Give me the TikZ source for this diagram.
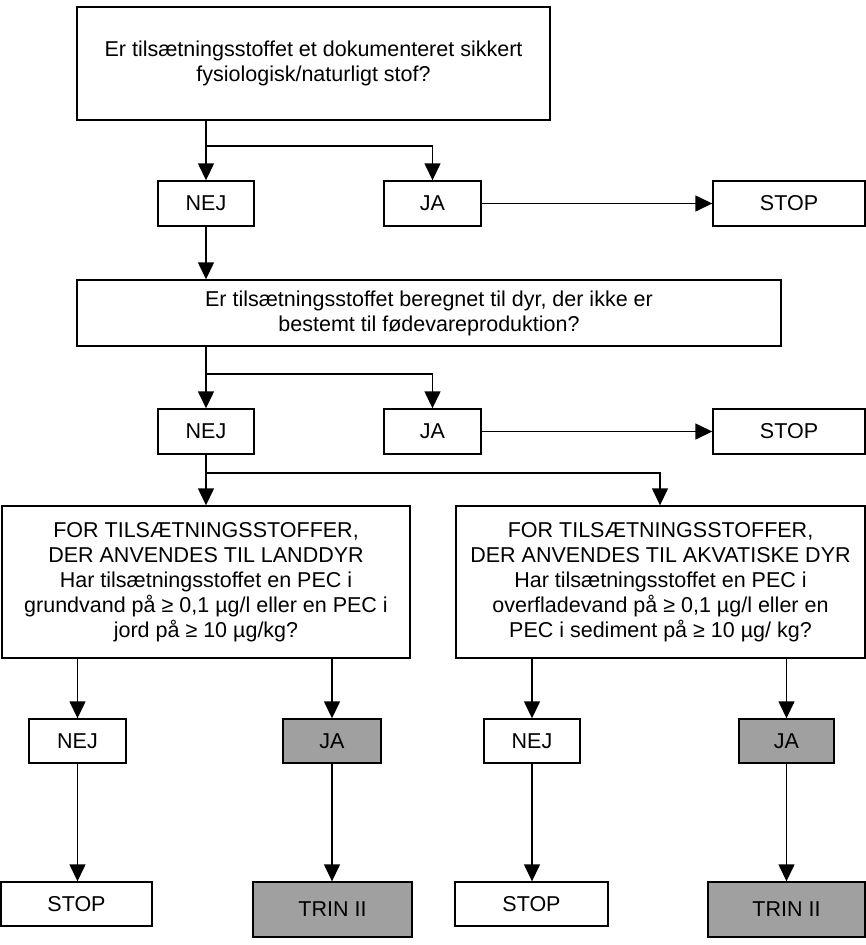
\documentclass[tikz,border=0pt]{standalone}
\usepackage{fontspec}
\setmainfont{Liberation Sans}
\usetikzlibrary{arrows.meta}
\definecolor{boxgray}{HTML}{A0A0A0}
\tikzset{
  bx/.style={draw=black, line width=1.4pt, fill=white, inner sep=0pt, align=center,
             font=\fontsize{21.5}{25}\selectfont},
  gbx/.style={bx, fill=boxgray},
  conn/.style={line width=1.4pt},
  arr/.style={conn, -{Triangle[width=16pt,length=17pt]}}
}
\newcommand{\boxat}[6]{% name, x1, y1, x2, y2, style/text
  \node[#6, minimum width={#4-#2}, minimum height={#5-#3}] (#1) at ({(#2+#4)/2},{(#3+#5)/2})}
\begin{document}
\begin{tikzpicture}[x=1pt,y=-1pt]
\useasboundingbox (0,0) rectangle (866,945);
% row 1
\boxat{q1}{77}{7}{550}{120}{bx} {Er tilsætningsstoffet et dokumenteret sikkert\\fysiologisk/naturligt stof?};
\boxat{n1}{158}{181}{254}{226}{bx} {NEJ};
\boxat{j1}{384}{181}{481}{226}{bx} {JA};
\boxat{s1}{713}{181}{865}{226}{bx} {STOP};
% row 2
\boxat{q2}{77}{280}{781}{346}{bx} {Er tilsætningsstoffet beregnet til dyr, der ikke er\\bestemt til fødevareproduktion?};
\boxat{n2}{158}{409}{254}{454}{bx} {NEJ};
\boxat{j2}{384}{409}{481}{454}{bx} {JA};
\boxat{s2}{713}{409}{865}{454}{bx} {STOP};
% row 3
\boxat{q3}{2}{506}{410}{658}{bx} {FOR TILSÆTNINGSSTOFFER,\\DER ANVENDES TIL LANDDYR\\Har tilsætningsstoffet en PEC i\\grundvand på ≥ 0,1 µg/l eller en PEC i\\jord på ≥ 10 µg/kg?};
\boxat{q4}{456}{506}{865}{658}{bx} {FOR TILSÆTNINGSSTOFFER,\\DER ANVENDES TIL AKVATISKE DYR\\Har tilsætningsstoffet en PEC i\\overfladevand på ≥ 0,1 µg/l eller en\\PEC i sediment på ≥ 10 µg/ kg?};
% row 4
\boxat{n3}{29}{719}{126}{763}{bx} {NEJ};
\boxat{j3}{283}{719}{381}{763}{gbx} {JA};
\boxat{n4}{484}{719}{580}{763}{bx} {NEJ};
\boxat{j4}{739}{719}{834}{763}{gbx} {JA};
% row 5
\boxat{s3}{1}{882}{152}{926}{bx} {STOP};
\boxat{t3}{253}{882}{412}{937}{gbx} {TRIN II};
\boxat{s4}{455}{882}{608}{926}{bx} {STOP};
\boxat{t4}{708}{882}{865}{937}{gbx} {TRIN II};
% connectors
\coordinate (b1) at (207,146);
\coordinate (b2) at (207,374);
\coordinate (b3) at (207,473);
\draw[arr] (q1.south -| n1) -- (n1.north);
\draw[arr] (b1) -| (j1.north);
\draw[arr] (j1.east) -- (s1.west);
\draw[arr] (n1.south) -- (q2.north -| n1);
\draw[arr] (q2.south -| n2) -- (n2.north);
\draw[arr] (b2) -| (j2.north);
\draw[arr] (j2.east) -- (s2.west);
\draw[arr] (n2.south) -- (q3.north -| n2);
\draw[arr] (b3) -| (q4.north -| 660,0);
\draw[arr] (q3.south -| n3) -- (n3.north);
\draw[arr] (q3.south -| j3) -- (j3.north);
\draw[arr] (q4.south -| n4) -- (n4.north);
\draw[arr] (q4.south -| j4) -- (j4.north);
\draw[arr] (n3.south) -- (s3.north -| n3);
\draw[arr] (j3.south) -- (t3.north -| j3);
\draw[arr] (n4.south) -- (s4.north -| n4);
\draw[arr] (j4.south) -- (t4.north -| j4);
\end{tikzpicture}
\end{document}
